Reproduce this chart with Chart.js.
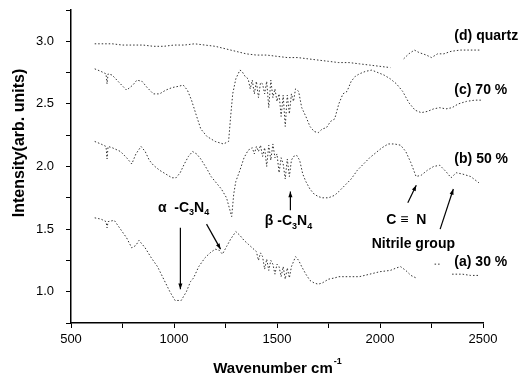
<!DOCTYPE html>
<html>
<head>
<meta charset="utf-8">
<script src="https://cdn.jsdelivr.net/npm/chart.js@4.4.0/dist/chart.umd.min.js"></script>
<style>
  body { margin: 0; background: #fff; }
  canvas { display: block; }
</style>
</head>
<body>
<canvas id="chart" width="522" height="381"></canvas>
<script>
// spectra (wavenumber in cm-1, intensity arb. units)
const quartzWn = [615, 650, 700, 750, 800, 850, 900, 950, 1000, 1050, 1100, 1150, 1200, 1250, 1300, 1350, 1400, 1450, 1500, 1550, 1600, 1650, 1700, 1750, 1800, 1850, 1900, 1950, 2000, 2050, 2080, 2115, 2140, 2167, 2190, 2225, 2250, 2280, 2310, 2345, 2390, 2440, 2490]
const quartzI = [2.98, 2.98, 2.98, 2.97, 2.97, 2.97, 2.96, 2.96, 2.97, 2.97, 2.98, 2.97, 2.96, 2.94, 2.92, 2.90, 2.89, 2.89, 2.88, 2.87, 2.87, 2.86, 2.85, 2.84, 2.83, 2.83, 2.82, 2.81, 2.80, 2.79, null, 2.86, 2.90, 2.93, 2.91, 2.89, 2.87, 2.90, 2.90, 2.92, 2.93, 2.93, 2.93]

const s70Wn = [615, 645, 670, 675, 680, 700, 740, 770, 800, 820, 845, 870, 900, 930, 960, 990, 1020, 1045, 1065, 1085, 1110, 1130, 1160, 1200, 1240, 1265, 1275, 1285, 1300, 1320, 1330, 1345, 1360, 1370, 1380, 1390, 1400, 1410, 1420, 1430, 1440, 1450, 1460, 1470, 1480, 1490, 1500, 1510, 1520, 1530, 1540, 1550, 1560, 1570, 1580, 1590, 1605, 1620, 1640, 1660, 1680, 1700, 1720, 1740, 1760, 1780, 1800, 1820, 1840, 1860, 1880, 1900, 1930, 1960, 1990, 2020, 2050, 2080, 2110, 2140, 2170, 2200, 2230, 2260, 2290, 2320, 2350, 2380, 2420, 2460, 2490]
const s70I = [2.78, 2.76, 2.74, 2.66, 2.74, 2.73, 2.66, 2.61, 2.65, 2.69, 2.68, 2.63, 2.58, 2.58, 2.61, 2.63, 2.64, 2.65, 2.61, 2.53, 2.40, 2.30, 2.24, 2.20, 2.18, 2.20, 2.40, 2.58, 2.70, 2.77, 2.76, 2.72, 2.70, 2.62, 2.69, 2.58, 2.68, 2.55, 2.67, 2.66, 2.58, 2.68, 2.47, 2.69, 2.55, 2.62, 2.52, 2.58, 2.40, 2.57, 2.32, 2.57, 2.42, 2.58, 2.52, 2.62, 2.60, 2.47, 2.40, 2.32, 2.28, 2.27, 2.30, 2.31, 2.36, 2.38, 2.50, 2.58, 2.60, 2.68, 2.72, 2.74, 2.76, 2.77, 2.75, 2.73, 2.70, 2.66, 2.60, 2.51, 2.45, 2.43, 2.44, 2.46, 2.47, 2.46, 2.47, 2.50, 2.52, 2.53, 2.53]

const s50Wn = [615, 645, 670, 675, 680, 700, 740, 770, 795, 815, 840, 860, 880, 900, 930, 960, 990, 1010, 1030, 1050, 1070, 1090, 1110, 1130, 1160, 1180, 1200, 1230, 1255, 1270, 1280, 1290, 1300, 1320, 1340, 1360, 1380, 1390, 1400, 1410, 1420, 1430, 1440, 1450, 1460, 1470, 1480, 1490, 1500, 1510, 1520, 1530, 1540, 1550, 1560, 1570, 1580, 1595, 1610, 1625, 1640, 1660, 1680, 1700, 1720, 1750, 1780, 1800, 1830, 1860, 1890, 1920, 1950, 1980, 2010, 2040, 2070, 2100, 2125, 2150, 2175, 2200, 2230, 2260, 2290, 2320, 2345, 2370, 2400, 2440, 2480]
const s50I = [2.20, 2.18, 2.16, 2.06, 2.16, 2.15, 2.12, 2.07, 2.02, 2.10, 2.16, 2.12, 2.05, 2.01, 1.97, 1.94, 1.91, 1.91, 1.95, 2.02, 2.08, 2.12, 2.10, 2.06, 1.98, 1.92, 1.88, 1.82, 1.75, 1.66, 1.60, 1.78, 1.88, 1.97, 2.07, 2.13, 2.15, 2.10, 2.16, 2.12, 2.17, 2.08, 2.15, 2.00, 2.17, 2.05, 2.18, 2.07, 2.10, 1.95, 2.07, 2.02, 1.90, 2.06, 1.92, 2.05, 2.08, 2.09, 2.05, 1.94, 1.88, 1.82, 1.78, 1.76, 1.75, 1.75, 1.77, 1.80, 1.85, 1.90, 1.97, 2.02, 2.07, 2.11, 2.15, 2.18, 2.18, 2.17, 2.12, 2.03, 1.92, 1.93, 1.97, 2.00, 2.01, 1.96, 1.91, 1.95, 1.94, 1.92, 1.87]

const s30Wn = [615, 645, 670, 675, 680, 710, 740, 770, 795, 815, 830, 860, 890, 920, 950, 980, 1005, 1035, 1060, 1080, 1095, 1120, 1150, 1175, 1200, 1220, 1235, 1255, 1275, 1300, 1320, 1340, 1360, 1380, 1400, 1410, 1420, 1430, 1440, 1450, 1460, 1470, 1480, 1490, 1500, 1510, 1520, 1530, 1540, 1550, 1560, 1570, 1580, 1590, 1605, 1620, 1640, 1660, 1680, 1700, 1720, 1750, 1780, 1800, 1850, 1900, 1950, 2000, 2050, 2080, 2100, 2125, 2150, 2175, 2220, 2265, 2290, 2320, 2350, 2400, 2440, 2480]
const s30I = [1.59, 1.58, 1.56, 1.51, 1.56, 1.57, 1.50, 1.43, 1.35, 1.37, 1.41, 1.35, 1.27, 1.20, 1.10, 1.00, 0.93, 0.93, 1.00, 1.08, 1.11, 1.20, 1.27, 1.31, 1.34, 1.33, 1.30, 1.36, 1.42, 1.48, 1.45, 1.41, 1.38, 1.35, 1.32, 1.25, 1.31, 1.28, 1.18, 1.26, 1.17, 1.25, 1.22, 1.14, 1.22, 1.20, 1.12, 1.20, 1.10, 1.19, 1.11, 1.20, 1.24, 1.28, 1.25, 1.20, 1.14, 1.09, 1.07, 1.06, 1.07, 1.10, 1.11, 1.12, 1.12, 1.12, 1.14, 1.16, 1.17, 1.19, 1.20, 1.17, 1.13, 1.11, null, 1.22, 1.22, null, 1.14, 1.14, 1.13, 1.13]

// curve labels on the right
const curveLabels = ['(d) quartz', '(c) 70 %', '(b) 50 %', '(a) 30 %']
const curveLabelWn = [2361, 2361, 2361, 2361]
const curveLabelI = [3.045, 2.61, 2.06, 1.24]

// assignment labels (with subscripts)
const bandLabels = [
  [['α  -C', 0], ['3', 1], ['N', 0], ['4', 1]],
  [['β -C', 0], ['3', 1], ['N', 0], ['4', 1]],
  [['C ≡  N', 0]],
  [['Nitrile group', 0]]
]
const bandLabelWn = [922, 1441, 2030, 1960]
const bandLabelI = [1.67, 1.56, 1.57, 1.38]

// arrows: from -> to (head at "to")
const arrowFromWn = [1031, 1158, 1565, 2135, 2292]
const arrowFromI = [1.51, 1.54, 1.65, 1.71, 1.50]
const arrowToWn = [1031, 1226, 1565, 2176, 2356]
const arrowToI = [1.02, 1.34, 1.80, 1.85, 1.82]

const toPoints = (wn, vals) => wn.map((x, i) => ({ x: x, y: vals[i] }))

const lineStyle = {
  borderColor: '#333',
  borderWidth: 1,
  borderDash: [1.5, 2],
  pointRadius: 0,
  fill: false,
  spanGaps: false,
  tension: 0
}

const FONT = '"Liberation Sans", Arial, sans-serif'

function drawRich(ctx, parts, x, y) {
  let cx = x
  parts.forEach(([t, sub]) => {
    ctx.font = sub ? 'bold 9px ' + FONT : 'bold 14px ' + FONT
    ctx.fillText(t, cx, sub ? y + 5 : y)
    cx += ctx.measureText(t).width
  })
}

function drawArrow(ctx, x1, y1, x2, y2) {
  ctx.beginPath()
  ctx.moveTo(x1, y1)
  ctx.lineTo(x2, y2)
  ctx.stroke()
  const a = Math.atan2(y2 - y1, x2 - x1)
  const len = 6
  ctx.beginPath()
  ctx.moveTo(x2, y2)
  ctx.lineTo(x2 - len * Math.cos(a - 0.35), y2 - len * Math.sin(a - 0.35))
  ctx.lineTo(x2 - len * Math.cos(a + 0.35), y2 - len * Math.sin(a + 0.35))
  ctx.closePath()
  ctx.fill()
}

const labelsPlugin = {
  id: 'labels',
  afterDraw(chart) {
    const ctx = chart.ctx
    const xs = chart.scales.x
    const ys = chart.scales.y
    ctx.save()
    ctx.fillStyle = '#000'
    ctx.strokeStyle = '#000'
    ctx.lineWidth = 1.2
    ctx.textBaseline = 'middle'
    ctx.textAlign = 'left'

    ctx.font = 'bold 14px ' + FONT
    curveLabels.forEach((t, i) => {
      ctx.fillText(t, xs.getPixelForValue(curveLabelWn[i]), ys.getPixelForValue(curveLabelI[i]))
    })

    bandLabels.forEach((parts, i) => {
      drawRich(ctx, parts, xs.getPixelForValue(bandLabelWn[i]), ys.getPixelForValue(bandLabelI[i]))
    })

    arrowFromWn.forEach((w, i) => {
      drawArrow(ctx,
        xs.getPixelForValue(w), ys.getPixelForValue(arrowFromI[i]),
        xs.getPixelForValue(arrowToWn[i]), ys.getPixelForValue(arrowToI[i]))
    })

    // axis titles
    const area = chart.chartArea
    ctx.font = 'bold 15px ' + FONT
    ctx.textAlign = 'center'
    const xt = 'Wavenumber cm'
    const w = ctx.measureText(xt).width
    const cx = (area.left + area.right) / 2 - 4
    ctx.fillText(xt, cx, 369)
    ctx.font = 'bold 9px ' + FONT
    ctx.textAlign = 'left'
    ctx.fillText('-1', cx + w / 2 + 1, 362)

    ctx.translate(20, 143)
    ctx.rotate(-Math.PI / 2)
    ctx.font = 'bold 16px ' + FONT
    ctx.textAlign = 'center'
    ctx.fillText('Intensity(arb. units)', 0, 0)
    ctx.restore()
  }
}

const axisBase = {
  border: { color: '#000', width: 1.5 },
  grid: { drawOnChartArea: false, color: '#000', tickColor: '#000', tickLength: 5, tickWidth: 1 }
}

new Chart(document.getElementById('chart'), {
  type: 'line',
  data: {
    datasets: [
      { ...lineStyle, label: '(d) quartz', data: toPoints(quartzWn, quartzI) },
      { ...lineStyle, label: '(c) 70 %', data: toPoints(s70Wn, s70I) },
      { ...lineStyle, label: '(b) 50 %', data: toPoints(s50Wn, s50I) },
      { ...lineStyle, label: '(a) 30 %', data: toPoints(s30Wn, s30I) }
    ]
  },
  options: {
    responsive: false,
    animation: false,
    layout: { padding: { top: 10, right: 39, left: 0, bottom: 0 } },
    plugins: {
      legend: { display: false },
      tooltip: { enabled: false }
    },
    scales: {
      x: {
        ...axisBase,
        type: 'linear',
        min: 500,
        max: 2500,
        afterFit: (s) => { s.height = 58; s.paddingLeft = 0; s.paddingRight = 0 },
        ticks: {
          stepSize: 250,
          autoSkip: false,
          maxRotation: 0,
          padding: 4,
          color: '#000',
          font: { family: FONT, size: 13 },
          callback: (v) => (v % 500 === 0 ? v : '')
        }
      },
      y: {
        ...axisBase,
        min: 0.75,
        max: 3.25,
        afterFit: (s) => { s.width = 71; s.paddingTop = 0; s.paddingBottom = 0 },
        ticks: {
          stepSize: 0.25,
          autoSkip: false,
          padding: 12,
          color: '#000',
          font: { family: FONT, size: 13 },
          callback: (v) => (Math.abs(v * 2 - Math.round(v * 2)) < 1e-9 ? v.toFixed(1) : '')
        }
      }
    }
  },
  plugins: [labelsPlugin]
})
</script>
</body>
</html>
